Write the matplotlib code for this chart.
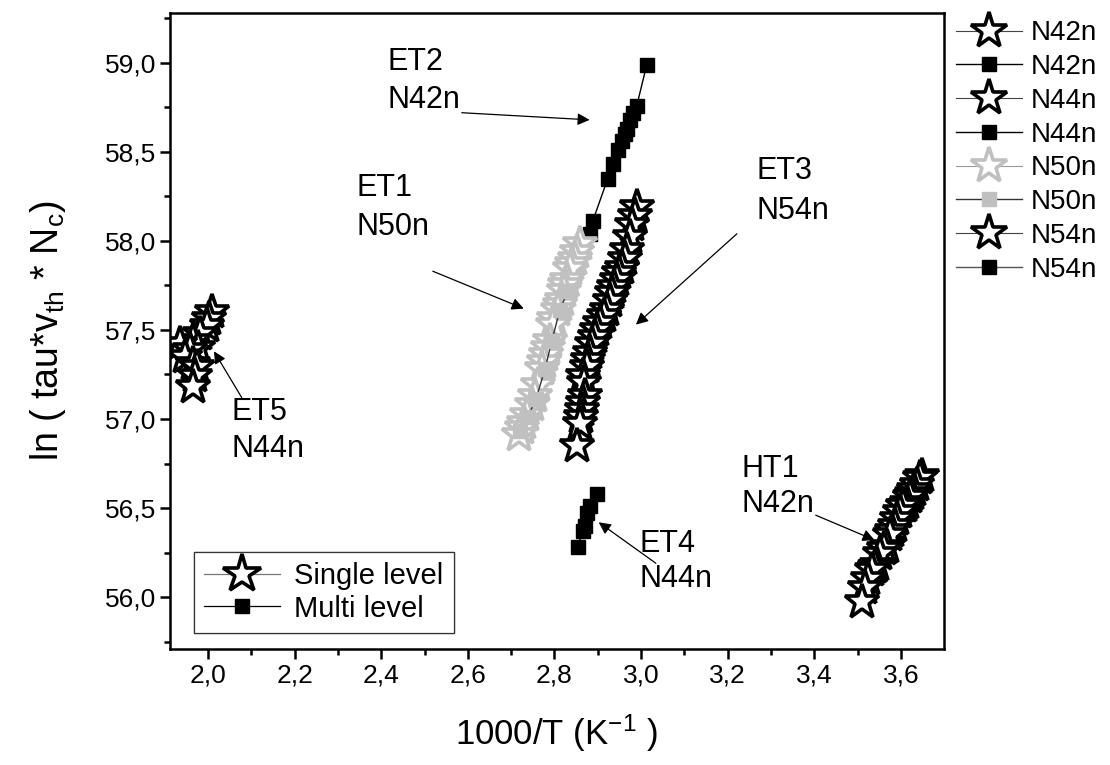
import matplotlib
matplotlib.use('Agg')
import matplotlib.pyplot as plt
from matplotlib.lines import Line2D
from matplotlib.ticker import MultipleLocator, FuncFormatter

plt.rcParams['font.family'] = ['Liberation Sans', 'DejaVu Sans']
plt.rcParams['mathtext.default'] = 'regular'

# HT1 - N42n single level
n42_single_x = [3.648, 3.643, 3.637, 3.631, 3.625, 3.620, 3.613, 3.608, 3.604, 3.597, 3.590, 3.585,
                3.579, 3.574, 3.567, 3.560, 3.551, 3.544, 3.540, 3.532, 3.523, 3.516, 3.509]
n42_single_y = [56.68, 56.67, 56.63, 56.60, 56.58, 56.56, 56.53, 56.51, 56.51, 56.48, 56.44, 56.40,
                56.37, 56.35, 56.28, 56.27, 56.24, 56.18, 56.17, 56.15, 56.10, 56.05, 55.97]

# ET2 - N42n multi level
n42_multi_x = [3.013, 2.990, 2.981, 2.974, 2.967, 2.962, 2.955, 2.946, 2.934, 2.923, 2.888, 2.881, 2.851, 2.844]
n42_multi_y = [58.99, 58.76, 58.72, 58.68, 58.63, 58.60, 58.56, 58.51, 58.43, 58.35, 58.11, 58.04, 57.88, 57.85]

# ET5 - N44n single level
n44_single_x = [2.009, 2.003, 1.998, 1.982, 1.965, 1.977, 1.935, 1.958, 1.947, 1.965, 1.975, 1.970, 1.965]
n44_single_y = [57.60, 57.56, 57.52, 57.48, 57.44, 57.40, 57.42, 57.39, 57.35, 57.31, 57.29, 57.24, 57.18]

# ET4 - N44n multi level
n44_multi_x = [2.898, 2.881, 2.875, 2.870, 2.865, 2.854]
n44_multi_y = [56.58, 56.51, 56.47, 56.40, 56.37, 56.28]

# ET1 - N50n single level
n50_single_x = [2.858, 2.852, 2.847, 2.840, 2.835, 2.828, 2.824, 2.821, 2.817, 2.812, 2.808, 2.800, 2.796,
                2.789, 2.785, 2.780, 2.775, 2.771, 2.761, 2.755, 2.748, 2.736, 2.730, 2.724, 2.718]
n50_single_y = [57.98, 57.94, 57.90, 57.87, 57.84, 57.78, 57.75, 57.72, 57.67, 57.64, 57.61, 57.56, 57.53,
                57.44, 57.40, 57.36, 57.32, 57.28, 57.19, 57.13, 57.08, 57.02, 56.98, 56.95, 56.91]

# ET1 - N50n multi level
n50_multi_x = [2.831, 2.812, 2.794, 2.778, 2.757, 2.738, 2.720]
n50_multi_y = [57.72, 57.61, 57.44, 57.28, 57.11, 57.01, 56.93]

# ET3 - N54n single level
n54_single_x = [2.990, 2.985, 2.978, 2.974, 2.967, 2.962, 2.955, 2.950, 2.944, 2.938, 2.932, 2.927, 2.921,
                2.915, 2.904, 2.898, 2.893, 2.887, 2.881, 2.878, 2.874, 2.865, 2.869, 2.870, 2.866, 2.863,
                2.861, 2.858, 2.851]
n54_single_y = [58.19, 58.14, 58.09, 58.02, 57.95, 57.90, 57.85, 57.82, 57.78, 57.74, 57.71, 57.66, 57.61,
                57.58, 57.54, 57.50, 57.46, 57.42, 57.37, 57.33, 57.29, 57.24, 57.20, 57.13, 57.09, 57.05,
                57.01, 56.97, 56.85]

# ET3 - N54n multi level
n54_multi_x = [2.974, 2.951, 2.928, 2.904, 2.886, 2.872, 2.863]
n54_multi_y = [58.01, 57.84, 57.67, 57.50, 57.33, 57.16, 56.99]

legend_labels = ['N42n', 'N42n', 'N44n', 'N44n', 'N50n', 'N50n', 'N54n', 'N54n']

gray = '#c0c0c0'
star_ms = 26
sq_ms = 9.5

fig = plt.figure(figsize=(11.1, 7.65), dpi=100)
ax = fig.add_axes([0.153, 0.152, 0.697, 0.831])


def star(x, y, col, lab):
    return ax.plot(x, y, '-', color='#444444' if col == 'black' else '#999999', lw=0.8,
                   marker='*', ms=star_ms, mfc='white', mec=col, mew=2.6, label=lab)[0]


def square(x, y, col, lab, lcol='black'):
    return ax.plot(x, y, '-', color=lcol, lw=1.0, marker='s', ms=sq_ms,
                   mfc=col, mec=col, label=lab)[0]


h = []
h.append(star(n42_single_x, n42_single_y, 'black', legend_labels[0]))
h.append(square(n42_multi_x, n42_multi_y, 'black', legend_labels[1]))
h.append(star(n44_single_x, n44_single_y, 'black', legend_labels[2]))
h.append(square(n44_multi_x, n44_multi_y, 'black', legend_labels[3]))
h.append(star(n50_single_x, n50_single_y, gray, legend_labels[4]))
h.append(square(n50_multi_x, n50_multi_y, gray, legend_labels[5], lcol='#333333'))
h.append(square(n54_multi_x, n54_multi_y, 'black', legend_labels[7], lcol='#555555'))
h.append(star(n54_single_x, n54_single_y, 'black', legend_labels[6]))
# keep legend order as in the original
h[6], h[7] = h[7], h[6]

ax.set_xlim(1.912, 3.698)
ax.set_ylim(55.71, 59.28)

fmt = FuncFormatter(lambda v, p: ('%.1f' % v).replace('.', ','))
ax.xaxis.set_major_locator(MultipleLocator(0.2))
ax.xaxis.set_minor_locator(MultipleLocator(0.1))
ax.yaxis.set_major_locator(MultipleLocator(0.5))
ax.yaxis.set_minor_locator(MultipleLocator(0.25))
ax.xaxis.set_major_formatter(fmt)
ax.yaxis.set_major_formatter(fmt)
ax.tick_params(which='both', direction='out', width=1.8, labelsize=19, top=False, right=False)
ax.tick_params(which='major', length=7, pad=4)
ax.tick_params(axis='y', which='major', pad=3)
ax.tick_params(which='minor', length=4)
for s in ax.spines.values():
    s.set_linewidth(1.8)

ax.set_xlabel('1000/T (K$^{-1}$ )', fontsize=25, labelpad=18)
ax.set_ylabel('ln ( tau*v$_{th}$ * N$_c$)', fontsize=27, labelpad=26)

# labels and arrows
txt = dict(fontsize=22, ha='left', va='center')
notes = [
    ('ET2', 'N42n', 2.415, 59.006, 58.79),
    ('ET1', 'N50n', 2.344, 58.30, 58.08),
    ('ET3', 'N54n', 3.267, 58.39, 58.17),
    ('ET5', 'N44n', 2.055, 57.04, 56.83),
    ('ET4', 'N44n', 2.997, 56.30, 56.10),
    ('HT1', 'N42n', 3.232, 56.72, 56.52),
]
for a, b, x, y1, y2 in notes:
    ax.text(x, y1, a, **txt)
    ax.text(x, y2, b, **txt)

arrows = [
    ((2.586, 58.72), (2.881, 58.68)),
    ((2.519, 57.83), (2.729, 57.62)),
    ((3.221, 58.04), (2.988, 57.53)),
    ((2.078, 57.12), (2.014, 57.38)),
    ((3.034, 56.19), (2.902, 56.42)),
    ((3.403, 56.46), (3.539, 56.32)),
]
for start, end in arrows:
    ax.annotate('', xy=end, xytext=start,
                arrowprops=dict(arrowstyle='-|>', color='black', lw=0.9,
                                mutation_scale=18, shrinkA=0, shrinkB=0))

# inner legend
proxy = [Line2D([], [], color='#777777', lw=0.9, marker='*', ms=star_ms, mfc='white', mec='black', mew=2.6),
         Line2D([], [], color='black', lw=0.9, marker='s', ms=sq_ms, mfc='black', mec='black')]
leg1 = ax.legend(proxy, ['Single level', 'Multi level'], loc='lower left',
                 bbox_to_anchor=(0.031, 0.025), borderaxespad=0, fontsize=21,
                 fancybox=False, edgecolor='#333333', framealpha=1,
                 handlelength=2.6, markerscale=1.1, labelspacing=0.15,
                 borderpad=0.35, handletextpad=0.5)
leg1.get_frame().set_linewidth(0.9)
ax.add_artist(leg1)

# outer legend on the right
fig.legend(h, legend_labels, loc='upper left', bbox_to_anchor=(0.851, 0.988),
           frameon=False, fontsize=20, handlelength=2.4, handletextpad=0.3,
           labelspacing=0.28, borderaxespad=0, markerscale=1.05)

fig.savefig('out.png', dpi=100)
